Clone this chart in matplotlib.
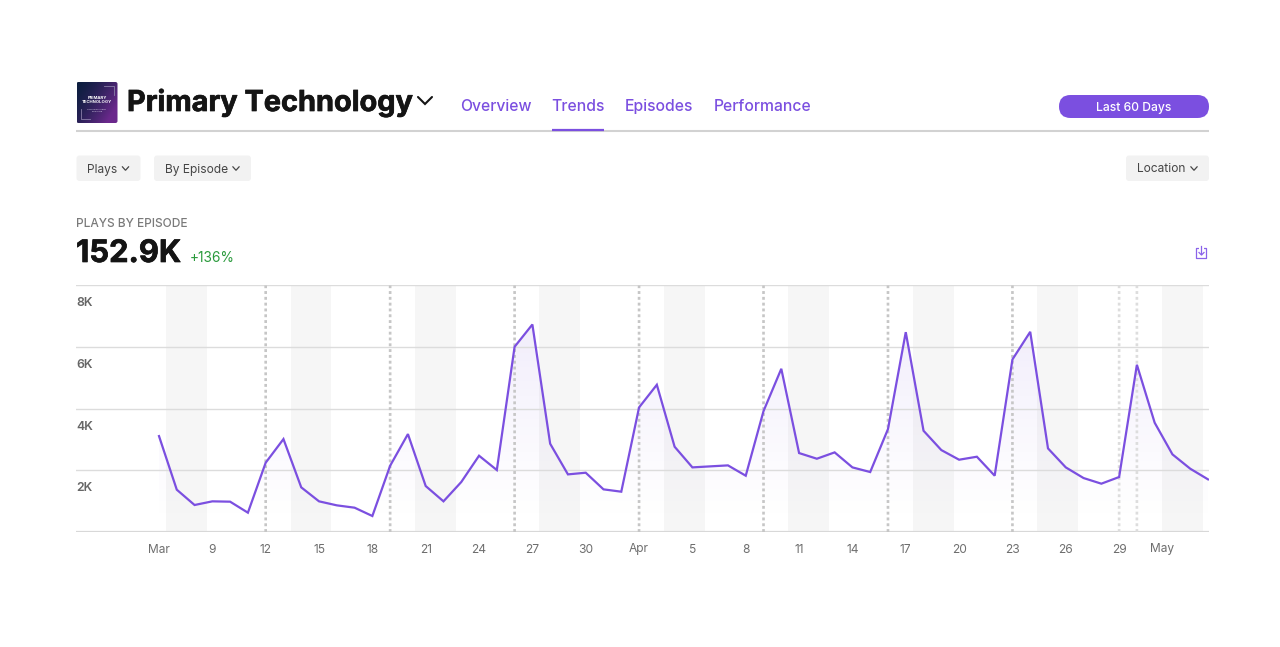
import numpy as np
import matplotlib
matplotlib.use("Agg")
import matplotlib.pyplot as plt
import matplotlib.patheffects as pe
from matplotlib.patches import FancyBboxPatch, PathPatch
from matplotlib.path import Path
from matplotlib.transforms import ScaledTranslation

plt.rcParams["font.family"] = ["Inter", "DejaVu Sans"]

# DATA
plays = [
    3113, 1373, 876, 995, 984, 627, 2249, 3016, 1449, 995,
    865, 789, 519, 2151, 3178, 1492, 995, 1622, 2476, 2011,
    6011, 6735, 2865, 1870, 1924, 1384, 1308, 4043, 4778, 2767,
    2097, 2130, 2162, 1827, 3924, 5297, 2562, 2378, 2584, 2097,
    1946, 3340, 6486, 3286, 2659, 2346, 2443, 1827, 5600, 6497,
    2713, 2097, 1751, 1568, 1784, 5427, 3546, 2519, 2054, 1708,
]
x_ticks = [0, 3, 6, 9, 12, 15, 18, 21, 24, 27, 30, 33, 36, 39, 42, 45, 48, 51, 54, 56.4]
x_labels = ["Mar", "9", "12", "15", "18", "21", "24", "27", "30", "Apr",
            "5", "8", "11", "14", "17", "20", "23", "26", "29", "May"]
y_ticks = [2000, 4000, 6000, 8000]
y_labels = ["2K", "4K", "6K", "8K"]
weekend_starts = [0.4, 7.4, 14.4, 21.4, 28.4, 35.4, 42.4, 49.4, 56.4]
episode_days = [6, 13, 20, 27, 34, 41, 48]
trailer_days = [54, 55]

PURPLE = "#7B4FE0"
W, H = 1280, 647


def px(size):
    return size * 0.72


fig = plt.figure(figsize=(W / 100, H / 100), dpi=100, facecolor="white")

# page chrome, in pixel coordinates
ui = fig.add_axes([0, 0, 1, 1])
ui.axis("off")


def button(x0, x1, y0, y1, color, radius):
    ui.add_patch(FancyBboxPatch((x0 + radius, y0 + radius), x1 - x0 - 2 * radius, y1 - y0 - 2 * radius,
                                boxstyle=f"round,pad={radius},rounding_size={radius}",
                                fc=color, ec="none"))


def chevron(x, y, w, h, color, lw):
    ui.plot([x - w, x, x + w], [y - h, y + h, y - h], color=color, lw=lw,
            solid_capstyle="round", solid_joinstyle="miter")


# cover art
cx, cy = np.meshgrid(np.linspace(0, 1, 60), np.linspace(0, 1, 60))
navy = np.array([0.05, 0.12, 0.25])
violet = np.array([0.42, 0.16, 0.55])
mix = np.clip((cx * 0.75 + cy * 0.45), 0, 1)[..., None] ** 1.5
cover = ui.imshow(navy * (1 - mix) + violet * mix, extent=(76.5, 117.5, 123, 82), aspect="auto", zorder=1)
frame = FancyBboxPatch((78.5, 84), 37, 37, boxstyle="round,pad=2,rounding_size=2", fc="none", ec="none",
                       transform=ui.transData)
ui.add_patch(frame)
cover.set_clip_path(frame)
ui.text(97, 100, "PRIMARY\nTECHNOLOGY", color="white", fontsize=px(4.2), fontweight="bold",
        ha="center", va="center", linespacing=0.95, zorder=2)
ui.text(97, 110.5, "Technology news\nand more", color="#d8d0e8", fontsize=px(2.3),
        ha="center", va="center", zorder=2)
ui.plot([104, 113.5, 113.5], [86, 86, 95], color="#8a7fa8", lw=0.6, zorder=2)
ui.plot([80.5, 80.5, 90], [109, 118.5, 118.5], color="#8a7fa8", lw=0.6, zorder=2)

heavy = [pe.withStroke(linewidth=0.5, foreground="#141414")]
ui.text(127, 111, "Primary Technology", fontsize=px(28.9), fontweight="bold", color="#141414",
        ha="left", va="baseline", path_effects=heavy)
chevron(425, 100.5, 7, 3.5, "#141414", 1.5)

for label, x, y in [("Overview", 460, 111.2), ("Trends", 551.5, 111.2), ("Episodes", 624.5, 110.5),
                    ("Performance", 714, 111.2)]:
    ui.text(x, y, label, fontsize=px(15.7), fontweight="medium", color=PURPLE, ha="left", va="baseline")
ui.plot([76, 1208.5], [131, 131], color="#d2d2d2", lw=1.5, solid_capstyle="butt")
ui.plot([551.5, 603.5], [129.5, 129.5], color=PURPLE, lw=1.6, solid_capstyle="butt")

button(1059, 1209, 95, 118, PURPLE, 11.5)
ui.text(1133.5, 111, "Last 60 Days", fontsize=px(12.1), fontweight="medium", color="white",
        ha="center", va="baseline")

for label, x0, x1 in [("Plays", 76.5, 140.5), ("By Episode", 154, 251), ("Location", 1126, 1209)]:
    button(x0, x1, 155.5, 181, "#f2f2f2", 3)
    ui.text(x0 + 11, 172.5, label, fontsize=px(12), color="#454545", ha="left", va="baseline")
    chevron(x1 - 15, 168.5, 3.2, 1.8, "#454545", 0.9)

ui.text(76.5, 227, "PLAYS BY EPISODE", fontsize=px(11.9), fontweight="medium", color="#7a7a7a",
        ha="left", va="baseline")
ui.text(76, 262, "152.9K", fontsize=px(30.9), fontweight="bold", color="#141414", ha="left", va="baseline",
        path_effects=heavy)
ui.text(190, 262, "+136%", fontsize=px(13.8), color="#2a9a3c", ha="left", va="baseline")

# export icon
ICON = "#8b63ea"
ui.add_patch(PathPatch(Path([(1199, 248.5), (1196.5, 248.5), (1196.5, 258.5), (1206.5, 258.5),
                             (1206.5, 248.5), (1204, 248.5)]),
                       fc="none", ec=ICON, lw=0.9, joinstyle="round", snap=False))
ui.plot([1201.5, 1201.5], [246.5, 254.5], color=ICON, lw=0.9, snap=False)
ui.plot([1199, 1201.5, 1204], [252.5, 255, 252.5], color=ICON, lw=0.9, snap=False)

ui.set_xlim(0, W)
ui.set_ylim(H, 0)

# the chart
ax = fig.add_axes([76 / W, (H - 532) / H, (1208.5 - 76) / W, (532 - 285.5) / H])
ax.patch.set_alpha(0)
days = np.arange(len(plays))

for start in weekend_starts:
    ax.axvspan(start, start + 2.3, color="#f6f6f6", lw=0, zorder=1)

# gradient under the line
grad = np.zeros((100, 2, 4))
grad[..., :3] = matplotlib.colors.to_rgb("#6a3fd8")
grad[..., 3] = (0.1 * np.linspace(1, 0, 100) ** 1.3)[:, None]
img = ax.imshow(grad, extent=(0, 59, 0, 7000), origin="upper", aspect="auto", zorder=2)
area = ax.fill_between(days, plays, 0, color="none", lw=0)
img.set_clip_path(area.get_paths()[0], transform=ax.transData)

for y in y_ticks:
    ax.axhline(y, color="#dcdcdc", lw=1.0, zorder=3)
ax.axhline(0, color="#d8d8d8", lw=1.6, zorder=3)

for d in episode_days:
    ax.axvline(d, color="#c6c6c6", lw=1.9, ls=(0, (1.1, 1.1)), zorder=4, snap=False)
for d in trailer_days:
    ax.axvline(d, color="#dddddd", lw=1.9, ls=(0, (1.1, 1.1)), zorder=4, snap=False)

ax.plot(days, plays, color=PURPLE, lw=1.6, zorder=5, solid_joinstyle="miter")

ax.set_xlim((76 - 159) / 17.78, (1208.5 - 159) / 17.78)
ax.set_ylim(0, 8000)
ax.set_xticks(x_ticks, x_labels)
ax.set_yticks(y_ticks, y_labels)
ax.tick_params(axis="x", length=0, pad=21 * 0.72, labelsize=px(12), labelcolor="#6e6e6e")
ax.tick_params(axis="y", length=0, pad=0, labelsize=px(12.3), labelcolor="#666666")
up = ScaledTranslation(0, 0.7 / 100, fig.dpi_scale_trans)
for lab in ax.get_xticklabels():
    lab.set_va("baseline")
    if lab.get_text() in ("Apr", "May"):
        lab.set_transform(lab.get_transform() + up)
shift = ScaledTranslation(0.5 / 100, -16.5 / 100, fig.dpi_scale_trans)
for lab in ax.get_yticklabels():
    lab.set_ha("left")
    lab.set_fontweight("semibold")
    lab.set_transform(lab.get_transform() + shift)
for side in ax.spines.values():
    side.set_visible(False)

fig.savefig("out.png", dpi=100)
